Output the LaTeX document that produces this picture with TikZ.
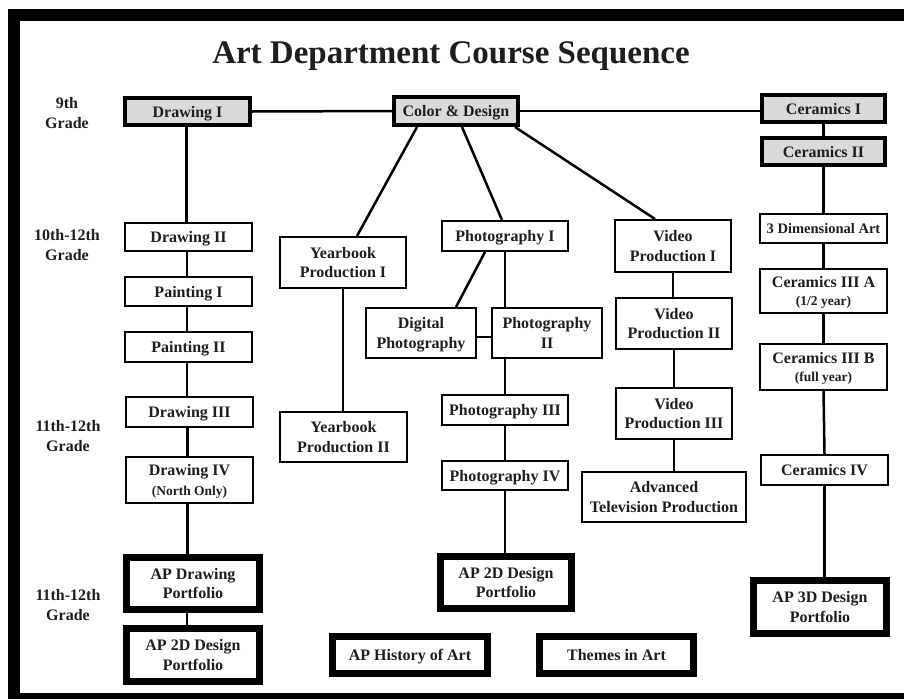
\documentclass[tikz,border=0pt]{standalone}
\usepackage{fontspec}
\setmainfont{Liberation Serif}
\usetikzlibrary{calc}
\definecolor{boxgray}{RGB}{218,218,218}
\definecolor{ink}{RGB}{30,30,30}
\tikzset{
  base/.style={draw=black, align=center, inner sep=0pt, text=ink, text depth=0pt,
    font=\bfseries\fontsize{16}{19.5}\selectfont},
  rbox/.style={base, line width=2pt, fill=white},
  gbox/.style={base, line width=4pt, fill=boxgray},
  apbox/.style={base, line width=7pt, fill=white},
  conn/.style={line width=2.5pt, draw=black},
  grade/.style={align=center, inner sep=0pt, text=ink,
    font=\bfseries\fontsize{16}{20}\selectfont},
}
\newcommand{\sm}{\fontsize{13.5}{16}\selectfont}
\begin{document}
\begin{tikzpicture}[x=1pt,y=-1pt]
\useasboundingbox (0,0) rectangle (904,699);
\fill[white] (0,0) rectangle (904,699);
\fill[black] (8,9) rectangle (904,699);
\fill[white] (20,21) rectangle (904,693);

\node[anchor=base, text=ink, font=\bfseries\fontsize{33}{36}\selectfont] (title) at (451,63) {Art Department Course Sequence};

% grade labels
\node[grade] (g9) at (67,113) {9th\\Grade};
\node[grade] (g10) at (67,245) {10th-12th\\Grade};
\node[grade] (g11) at (68,436) {11th-12th\\Grade};
\node[grade] (g11b) at (68,605) {11th-12th\\Grade};

% 9th grade
\node[gbox, minimum width=125pt, minimum height=27pt] (d1) at (187.5,111.5) {Drawing I};
\node[gbox, minimum width=124pt, minimum height=28pt] (cd) at (456,111) {Color \& Design};
\node[gbox, minimum width=123pt, minimum height=27pt] (c1) at (823.5,108.5) {Ceramics I};
\node[gbox, minimum width=123pt, minimum height=27pt] (c2) at (823.5,151.5) {Ceramics II};

% drawing column
\node[rbox, minimum width=127pt, minimum height=28pt] (d2) at (188.5,237) {Drawing II};
\node[rbox, minimum width=127pt, minimum height=29pt] (p1) at (188.5,291.5) {Painting I};
\node[rbox, minimum width=127pt, minimum height=30pt] (p2) at (188.5,347) {Painting II};
\node[rbox, minimum width=127pt, minimum height=30pt] (d3) at (189.5,412) {Drawing III};
\node[rbox, minimum width=127pt, minimum height=46pt] (d4) at (189.5,480) {Drawing IV\\{\sm(North Only)}};
\node[apbox, minimum width=133pt, minimum height=52pt] (apd) at (193,583.5) {AP Drawing\\Portfolio};
\node[apbox, minimum width=133pt, minimum height=53pt] (ap2l) at (193,655) {AP 2D Design\\Portfolio};

% yearbook
\node[rbox, minimum width=126pt, minimum height=51pt] (y1) at (343,262.5) {Yearbook\\Production I};
\node[rbox, minimum width=127pt, minimum height=50pt] (y2) at (343.5,437) {Yearbook\\Production II};

% photography
\node[rbox, minimum width=126pt, minimum height=30pt] (ph1) at (505,236) {Photography I};
\node[rbox, minimum width=110pt, minimum height=50pt] (dp) at (421,333) {Digital\\Photography};
\node[rbox, minimum width=110pt, minimum height=50pt] (ph2) at (547,333) {Photography\\II};
\node[rbox, minimum width=126pt, minimum height=30pt] (ph3) at (505,410) {Photography III};
\node[rbox, minimum width=126pt, minimum height=29pt] (ph4) at (505,475.5) {Photography IV};
\node[apbox, minimum width=131pt, minimum height=52pt] (ap2m) at (506,582.5) {AP 2D Design\\Portfolio};

% video
\node[rbox, minimum width=116pt, minimum height=52pt] (v1) at (673,246) {Video\\Production I};
\node[rbox, minimum width=116pt, minimum height=51pt] (v2) at (674,323.5) {Video\\Production II};
\node[rbox, minimum width=116pt, minimum height=51pt] (v3) at (674,413.5) {Video\\Production III};
\node[rbox, minimum width=164pt, minimum height=50pt] (atv) at (664,497) {Advanced\\Television Production};

% ceramics
\node[rbox, minimum width=127pt, minimum height=29pt, font=\bfseries\fontsize{14.5}{17}\selectfont] (dim) at (823.5,228.5) {3 Dimensional Art};
\node[rbox, minimum width=127pt, minimum height=44pt, font=\bfseries\fontsize{16}{17.5}\selectfont] (c3a) at (823.5,291) {Ceramics III A\\{\sm(1/2 year)}};
\node[rbox, minimum width=127pt, minimum height=46pt, font=\bfseries\fontsize{16}{17.5}\selectfont] (c3b) at (823.5,367) {Ceramics III B\\{\sm(full year)}};
\node[rbox, minimum width=127pt, minimum height=30pt] (c4) at (824.5,470) {Ceramics IV};
\node[apbox, minimum width=133pt, minimum height=53pt] (ap3) at (820,607) {AP 3D Design\\Portfolio};

% bottom
\node[apbox, minimum width=155pt, minimum height=37pt] (aph) at (410,655) {AP History of Art};
\node[apbox, minimum width=154pt, minimum height=37pt] (thm) at (616.5,655) {Themes in Art};

% connectors
\draw[conn] (d1.east) -- (cd.west);
\draw[conn] (cd.east) -- (cd.east -| c1.west);
\draw[conn] (c1.south) -- (c2.north);
\draw[conn] (c2.south) -- (dim.north);
\draw[conn] (dim.south) -- (c3a.north);
\draw[conn] (c3a.south) -- (c3b.north);
\draw[conn] (c3b.south) -- (c4.north);
\draw[conn] (c4.south) -- (c4.south |- ap3.north);

\draw[conn] ([xshift=-1pt]d1.south) -- ([xshift=-1pt]d1.south |- d2.north);
\draw[conn] ([xshift=-1.5pt]d2.south) -- ([xshift=-1.5pt]d2.south |- p1.north);
\draw[conn] ([xshift=-1.5pt]p1.south) -- ([xshift=-1.5pt]p1.south |- p2.north);
\draw[conn] ([xshift=-1.5pt]p2.south) -- ([xshift=-1.5pt]p2.south |- d3.north);
\draw[conn] ([xshift=-2pt]d3.south) -- ([xshift=-2pt]d3.south |- d4.north);
\draw[conn] ([xshift=-2pt]d4.south) -- ([xshift=-2pt]d4.south |- apd.north);
\draw[conn] ([xshift=-6pt]apd.south) -- ([xshift=-6pt]apd.south |- ap2l.north);

\draw[conn] ([xshift=25pt]cd.south west) -- ([xshift=78pt]y1.north west);
\draw[conn] (y1.south) -- (y1.south |- y2.north);

\draw[conn] ([xshift=6pt]cd.south) -- ([xshift=-3pt]ph1.north);
\draw[conn] ([xshift=-20pt]ph1.south) -- ([xshift=35pt]dp.north);
\draw[conn] (ph1.south) -- (ph1.south |- ph2.north);
\draw[conn] ([yshift=-4pt]dp.east) -- ([yshift=-4pt]ph2.west);
\draw[conn] (ph3.north |- ph2.south) -- (ph3.north);
\draw[conn] (ph3.south) -- (ph4.north);
\draw[conn] (ph4.south) -- (ph4.south |- ap2m.north);

\draw[conn] ([xshift=-5pt]cd.south east) -- ([xshift=-18pt]v1.north);
\draw[conn] (v1.south) -- (v1.south |- v2.north);
\draw[conn] (v2.south) -- (v3.north);
\draw[conn] (v3.south) -- (v3.south |- atv.north);
\end{tikzpicture}
\end{document}
